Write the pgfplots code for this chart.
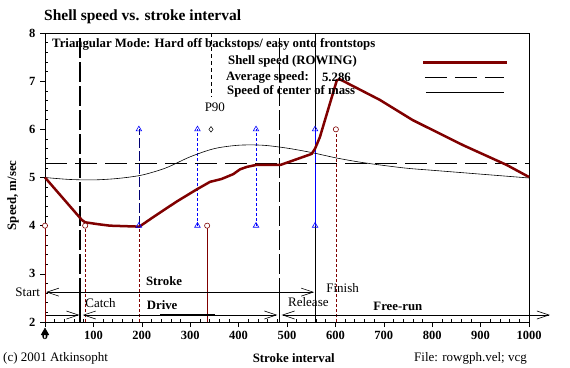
\documentclass[border=0pt]{standalone}
\usepackage{pgfplots}
\pgfplotsset{compat=1.18}
\usepackage{fontspec}
\setmainfont{Liberation Serif}
\usetikzlibrary{arrows.meta}
\definecolor{shell}{RGB}{128,0,0}
\begin{document}
\begin{tikzpicture}[font=\fontsize{13bp}{15bp}\selectfont, every node/.style={inner sep=0pt},
  bf/.style={font=\fontsize{12.8bp}{15bp}\selectfont\bfseries}]
\useasboundingbox (-45bp,-46bp) rectangle (525bp,322bp);
\tikzset{barb/.style={line width=0.6bp}, B/.tip={Straight Barb[length=12bp,width=8bp,line width=0.6bp]}}
\begin{axis}[at={(0,0)}, anchor=south west, scale only axis, width=484bp, height=289bp,
 xmin=0, xmax=1000, ymin=2, ymax=8, clip=false,
 xtick={0,100,...,1000}, ytick={2,...,8}, minor x tick num=4, minor y tick num=4,
 tick align=outside, major tick length=5bp, minor tick length=3bp,
 xtick pos=bottom, ytick pos=left,
 minor x tick style={yshift=3bp}, minor y tick style={xshift=3bp},
 axis line style={line width=0.6bp}, tick style={black, line width=0.6bp},
 ticklabel style={font=\fontsize{12.5bp}{14bp}\selectfont\bfseries},
 /pgf/number format/assume math mode=true, /pgf/number format/1000 sep={},
 xticklabel style={yshift=-4bp}, yticklabel style={xshift=-4.5bp},
]
% vertical guide lines
\addplot[black, line width=1.4bp, dash pattern=on 20bp off 4bp] coordinates {(72,2)(72,8)};
\addplot[black, line width=1.4bp] coordinates {(72,2)(72,2.62)};
\addplot[black, line width=0.7bp, dash pattern=on 20bp off 4bp] coordinates {(484,2)(484,8)};
\addplot[black, line width=0.7bp] coordinates {(484,2)(484,2.62)};
\addplot[black, line width=0.7bp] coordinates {(558,2)(558,8)};
\addplot[black, line width=0.6bp, dash pattern=on 4bp off 3bp] coordinates {(344,8)(344,6.67)};
% red verticals
\addplot[shell, line width=0.7bp] coordinates {(0,2)(0,4)};
\addplot[shell, line width=0.7bp, dash pattern=on 3bp off 2bp] coordinates {(83,2)(83,4)};
\addplot[shell, line width=0.7bp, dash pattern=on 3bp off 2bp] coordinates {(194,2)(194,4)};
\addplot[shell, line width=0.7bp] coordinates {(335,2)(335,4)};
\addplot[shell, line width=0.7bp, dash pattern=on 3bp off 2bp] coordinates {(601,2)(601,6)};
% blue verticals
\addplot[blue!45!black, line width=0.7bp, dash pattern=on 10bp off 3bp] coordinates {(194,4)(194,6)};
\addplot[blue, line width=0.7bp, dash pattern=on 3bp off 2bp] coordinates {(315,4)(315,6)};
\addplot[blue, line width=0.7bp, dash pattern=on 3bp off 2bp] coordinates {(436,4)(436,6)};
\addplot[blue, line width=0.7bp] coordinates {(558,4)(558,6)};
% average speed
\addplot[black, line width=0.8bp, dash pattern=on 22bp off 8bp] coordinates {(0,5.286)(1000,5.286)};
% speed of center of mass
\addplot[black, line width=0.6bp, smooth] coordinates {
(0,5.0)(50,4.96)(100,4.95)(150,4.98)(200,5.05)(250,5.2)(300,5.43)(350,5.6)(400,5.67)(450,5.67)
(500,5.61)(550,5.52)(600,5.41)(650,5.32)(700,5.25)(750,5.19)(800,5.15)(850,5.11)(900,5.07)(950,5.03)(1000,4.99)};
% shell speed
\addplot[shell, line width=2.5bp, line join=round] coordinates {
(0,5.0)(76,4.12)(83,4.07)(110,4.03)(134,4.0)(195,3.98)(224,4.18)(272,4.50)(313,4.75)(341,4.91)(365,4.97)
(389,5.07)(403,5.17)(417,5.22)(436,5.26)(486,5.26)(506,5.33)(551,5.49)(558,5.60)(568,5.84)(603,7.02)(609,7.04)
(692,6.61)(760,6.19)(864,5.67)(954,5.26)(1000,5.01)};
% markers
\addplot[only marks, mark=triangle, mark size=3.2bp, mark options={blue, solid, line width=0.6bp, fill=white}] coordinates {
(194,6)(194,4)(315,6)(315,4)(436,6)(436,4)(558,6)(558,4)};
\addplot[only marks, mark=*, mark size=2.6bp, mark options={draw=shell, fill=white, solid, line width=0.6bp}] coordinates {
(0,4)(83,4)(335,4)(601,6)};
\addplot[only marks, mark=diamond, mark size=2.8bp, mark options={black, solid, line width=0.5bp}] coordinates {(343,6)};
\addplot[only marks, mark=triangle*, mark size=4.5bp, black] coordinates {(0,1.78)};
% legend samples
\addplot[shell, line width=2.5bp] coordinates {(781,7.39)(955,7.39)};
\addplot[black, line width=0.8bp, dash pattern=on 22bp off 8bp] coordinates {(785,7.08)(948,7.08)};
\addplot[black, line width=0.8bp] coordinates {(787,6.77)(948,6.77)};
% phase arrows
\draw[barb, {B}-{B}] (axis cs:2,2.62) -- (axis cs:556,2.62);
\draw[barb, -{B}] (axis cs:2,2.145) -- (axis cs:71,2.145);
\draw[barb, {B}-{B}] (axis cs:78,2.145) -- (axis cs:480,2.145);
\draw[barb, {B}-{B}] (axis cs:489,2.145) -- (axis cs:1043,2.145);
\draw[line width=2bp] (axis cs:238,2.145) -- (axis cs:351,2.145);
% texts
\node[anchor=west, font=\fontsize{15.5bp}{17bp}\selectfont\bfseries] at (axis cs:-2,8.33) {Shell speed vs. stroke interval};
\node[anchor=west, bf] at (axis cs:14.5,7.77) {Triangular Mode: Hard off backstops/ easy onto frontstops};
\node[anchor=west, bf] at (axis cs:378,7.415) {Shell speed (ROWING)};
\node[anchor=west, bf] at (axis cs:374,7.08) {Average speed:};
\node[anchor=west, bf] at (axis cs:572,7.08) {5.286};
\node[anchor=west, bf] at (axis cs:376,6.79) {Speed of center of mass};
\node at (axis cs:351,6.46) {P90};
\node[rotate=90, bf] at (axis cs:-66,4.63) {Speed, m/sec};
\node[anchor=east] at (axis cs:-10,2.62) {Start};
\node[bf] at (axis cs:246,2.85) {Stroke};
\node[anchor=west] at (axis cs:581,2.70) {Finish};
\node[anchor=west] at (axis cs:83,2.39) {Catch};
\node[bf] at (axis cs:242,2.35) {Drive};
\node[anchor=west] at (axis cs:502,2.41) {Release};
\node[bf] at (axis cs:729,2.33) {Free-run};
\node[anchor=west] at (axis cs:-86.8,1.253) {(c) 2001 Atkinsopht};
\node[bf] at (axis cs:514,1.253) {Stroke interval};
\node[anchor=east] at (axis cs:996,1.253) {File: rowgph.vel; vcg};
\end{axis}
\end{tikzpicture}
\end{document}
